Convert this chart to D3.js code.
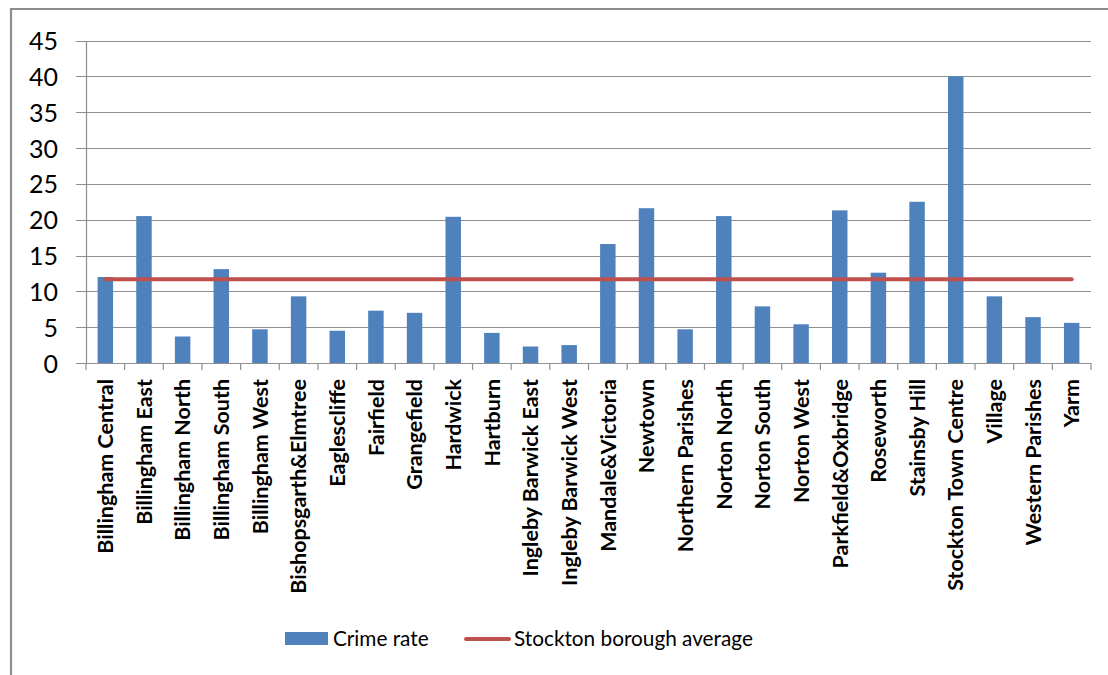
<!DOCTYPE html>
<html>
<head>
<meta charset="utf-8">
<script src="https://cdn.jsdelivr.net/npm/d3@7"></script>
<style>
  html, body { margin: 0; padding: 0; background: #fff; }
  svg { display: block; }
</style>
</head>
<body>
<svg id="chart" width="1108" height="675"></svg>
<script>
const categories = ["Billingham Central","Billingham East","Billingham North","Billingham South","Billingham West","Bishopsgarth&Elmtree","Eaglescliffe","Fairfield","Grangefield","Hardwick","Hartburn","Ingleby Barwick East","Ingleby Barwick West","Mandale&Victoria","Newtown","Northern Parishes","Norton North","Norton South","Norton West","Parkfield&Oxbridge","Roseworth","Stainsby Hill","Stockton Town Centre","Village","Western Parishes","Yarm"];
const crimeRate = [12.0,20.5,3.7,13.1,4.7,9.3,4.5,7.3,7.0,20.4,4.2,2.3,2.5,16.6,21.6,4.7,20.5,7.9,5.4,21.3,12.6,22.5,40.0,9.3,6.4,5.6];
const boroughAverage = 11.7;
const yTicks = [0,5,10,15,20,25,30,35,40,45];
const seriesNames = ["Crime rate","Stockton borough average"];

const font = "Lato, 'Open Sans', sans-serif";
const svg = d3.select("#chart");
svg.append("rect").attr("width",1108).attr("height",675).attr("fill","#fff");

// outer frame (left and top edges visible)
svg.append("path").attr("d","M11,675 V9 H1108").attr("fill","none").attr("stroke","#8c8c8c").attr("stroke-width",2.2);

const x = d3.scaleBand().domain(categories).range([86,1091]).paddingInner(0.6).paddingOuter(0.3);
const y = d3.scaleLinear().domain([0,45]).range([363,40.5]);

// helper: fit font size so a text reaches a target width
function fitSize(sel, target, base) {
  sel.attr("font-size", base);
  const w = sel.node().getComputedTextLength();
  return base * target / w;
}

// gridlines
svg.append("g").selectAll("line").data(yTicks).join("line")
  .attr("x1",76).attr("x2",1091)
  .attr("y1",d=>Math.round(y(d))+0.5).attr("y2",d=>Math.round(y(d))+0.5)
  .attr("stroke","#8f8f8f").attr("stroke-width",1.2);

// y axis
const yAxis = d3.axisLeft(y).tickValues(yTicks).tickSize(0).tickPadding(28);
const gy = svg.append("g").attr("transform","translate(86,0)").call(yAxis);
gy.select(".domain").attr("stroke","#8f8f8f").attr("stroke-width",1.2);
const yt = gy.selectAll("text").attr("font-family",font).attr("fill","#000").attr("dy","0.36em");
const ys = fitSize(yt.filter(d=>d===45), 29, 23);
yt.attr("font-size", Math.min(ys, 25));

// bars
svg.append("g").selectAll("rect").data(categories).join("rect")
  .attr("x",d=>x(d)).attr("width",x.bandwidth())
  .attr("y",(d,i)=>y(crimeRate[i])).attr("height",(d,i)=>y(0)-y(crimeRate[i]))
  .attr("fill","#4f81bd");

// x axis
const step = x.step();
const xAxis = d3.axisBottom(x).tickSize(0).tickPadding(0);
const gx = svg.append("g").attr("transform","translate(0,363)").call(xAxis);
gx.select(".domain").remove();
gx.append("line").attr("x1",76).attr("x2",1091).attr("y1",0.5).attr("y2",0.5).attr("stroke","#8f8f8f").attr("stroke-width",1.2);
gx.selectAll(".bnd").data(d3.range(categories.length+1)).join("line").attr("class","bnd")
  .attr("x1",i=>86+i*step).attr("x2",i=>86+i*step).attr("y1",0).attr("y2",7)
  .attr("stroke","#8f8f8f").attr("stroke-width",1.2);
const xt = gx.selectAll(".tick text")
  .attr("font-family",font).attr("font-weight","bold").attr("fill","#000")
  .attr("text-anchor","end").attr("dy","0.36em")
  .attr("transform","translate(0,16) rotate(-90)").attr("x",0).attr("y",0);
const ref = xt.filter(d=>d==="Stockton Town Centre");
const xs = fitSize(ref, 212, 20);
xt.attr("font-size", xs);

// average line
const cx0 = x(categories[0]) + x.bandwidth()/2;
const cx1 = x(categories[categories.length-1]) + x.bandwidth()/2;
svg.append("line").attr("x1",cx0).attr("x2",cx1)
  .attr("y1",y(boroughAverage)).attr("y2",y(boroughAverage))
  .attr("stroke","#c0504d").attr("stroke-width",4).attr("stroke-linecap","round");

// legend
const lg = svg.append("g");
lg.append("rect").attr("x",285).attr("y",632).attr("width",43).attr("height",13).attr("fill","#4f81bd");
const t1 = lg.append("text").attr("x",333).attr("y",639).attr("dy","0.36em").attr("font-family",font).attr("fill","#000").text(seriesNames[0]);
lg.append("line").attr("x1",466).attr("x2",509).attr("y1",639).attr("y2",639).attr("stroke","#c0504d").attr("stroke-width",4).attr("stroke-linecap","round");
const t2 = lg.append("text").attr("x",514).attr("y",639).attr("dy","0.36em").attr("font-family",font).attr("fill","#000").text(seriesNames[1]);
const ls = fitSize(t2, 239, 22);
t1.attr("font-size", ls); t2.attr("font-size", ls);
</script>
</body>
</html>
